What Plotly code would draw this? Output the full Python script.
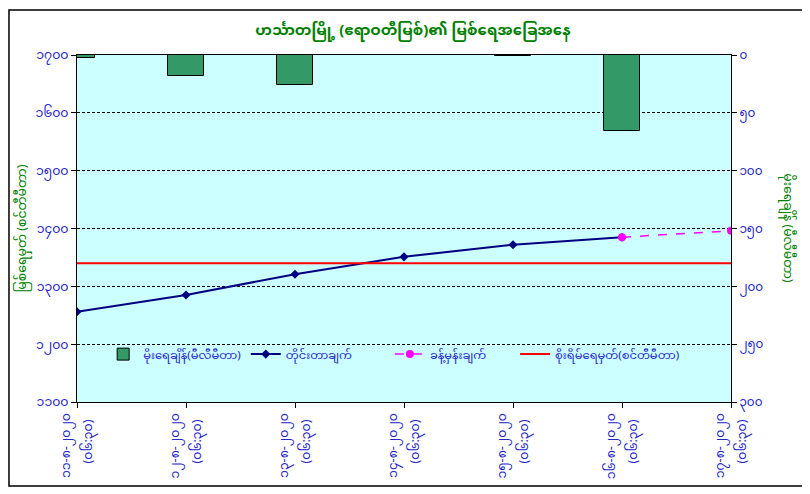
import plotly.graph_objects as go

# readings for Hinthada station (Ayeyarwady river)
dates = ["၁၁-၈-၂၀၂၀", "၁၂-၈-၂၀၂၀", "၁၃-၈-၂၀၂၀", "၁၄-၈-၂၀၂၀",
         "၁၅-၈-၂၀၂၀", "၁၆-၈-၂၀၂၀", "၁၇-၈-၂၀၂၀"]
obs_time = "(၀၆:၃၀)"
rainfall = [2.5, 18, 26, 0, 1, 66, 0]
observed = [1256, 1285, 1321, 1351, 1372, 1385, None]
forecast = [None, None, None, None, None, 1385, 1396]
danger = [1340, 1340, 1340, 1340, 1340, 1340, 1340]

level_ticks = [1100, 1200, 1300, 1400, 1500, 1600, 1700]
rain_ticks = [0, 50, 100, 150, 200, 250, 300]

MM = str.maketrans("0123456789", "၀၁၂၃၄၅၆၇၈၉")


def mm(n):
    return str(n).translate(MM)


def pad(name, n):
    # widen a legend entry so the items spread like the original
    return name + "\u00a0" * n


FONT = "Noto Sans Myanmar, Padauk, Myanmar Text, Noto Sans, sans-serif"
BLUE = "#2323c8"
GREEN = "#008000"

x = list(range(len(dates)))

fig = go.Figure()
fig.add_trace(go.Bar(
    x=x, y=rainfall, yaxis="y2", name="မိုးရေချိန်(မီလီမီတာ)",
    width=0.33, marker=dict(color="#339966", line=dict(color="black", width=1)),
))
fig.add_trace(go.Scatter(
    x=x, y=observed, name=pad("တိုင်းတာချက်", 11), mode="lines+markers",
    line=dict(color="#000080", width=2),
    marker=dict(symbol="diamond", size=7, color="#000080"),
))
fig.add_trace(go.Scatter(
    x=x, y=forecast, name=pad("ခန့်မှန်းချက်", 8), mode="lines+markers",
    line=dict(color="#ff00ff", width=1.5, dash="dash"),
    marker=dict(symbol="circle", size=8, color="#ff00ff"),
))
fig.add_trace(go.Scatter(
    x=x, y=danger, name="စိုးရိမ်ရေမှတ်(စင်တီမီတာ)", mode="lines",
    line=dict(color="#ff0000", width=2),
))
# invisible trace to carry the second row of x labels
fig.add_trace(go.Scatter(x=x, y=danger, xaxis="x2", mode="none",
                         showlegend=False, hoverinfo="skip"))

fig.update_layout(
    width=810, height=494,
    margin=dict(l=69, r=87, t=47, b=100, autoexpand=False),
    paper_bgcolor="white", plot_bgcolor="#ccffff",
    font=dict(family=FONT, color=BLUE, size=12),
    title=dict(text="<b>ဟင်္သာတမြို့ (ဧရာဝတီမြစ်)၏ မြစ်ရေအခြေအနေ</b>",
               x=0.5, xanchor="center", y=0.955, yanchor="middle",
               font=dict(size=15, color=GREEN, family=FONT)),
    showlegend=True,
    legend=dict(orientation="h", x=0.04, y=0.138, xanchor="left", yanchor="middle",
                bgcolor="rgba(0,0,0,0)", font=dict(size=11.5, color=BLUE),
                traceorder="normal"),
    bargap=0,
    xaxis=dict(range=[0, 6], tickvals=x, ticktext=dates, tickangle=-90,
               ticklabelshift=-11,
               showgrid=False, zeroline=False, showline=True, mirror=True,
               linecolor="black", linewidth=1, ticks="outside", ticklen=5,
               tickcolor="black", tickfont=dict(size=12.5, color=BLUE)),
    xaxis2=dict(range=[0, 6], overlaying="x", side="bottom", anchor="y",
                tickvals=x, ticktext=[obs_time] * len(x), tickangle=-90,
                ticklabelshift=11, ticklabelstandoff=14, showgrid=False,
                zeroline=False, showline=False, ticks="",
                tickfont=dict(size=12.5, color=BLUE)),
    yaxis=dict(range=[1100, 1700], tickvals=level_ticks,
               ticktext=[mm(v) for v in level_ticks],
               showgrid=True, gridcolor="black", griddash="3px,2px", gridwidth=1,
               zeroline=False, showline=True, linecolor="black", linewidth=1,
               ticks="outside", ticklen=5, tickcolor="black",
               tickfont=dict(size=12.5, color=BLUE)),
    yaxis2=dict(range=[300, 0], overlaying="y", side="right",
                tickvals=rain_ticks, ticktext=[mm(v) for v in rain_ticks],
                showgrid=False, zeroline=False, showline=True,
                linecolor="black", linewidth=1, ticks="outside", ticklen=5,
                tickcolor="black", tickfont=dict(size=12, color=BLUE)),
)

# axis titles
fig.add_annotation(text="မြစ်ရေမှတ် (စင်တီမီတာ)", textangle=-90,
                   xref="paper", yref="paper", x=-0.084, y=0.5, xanchor="center",
                   showarrow=False, font=dict(size=12.5, color=GREEN))
fig.add_annotation(text="မိုးရေချိန် (မီလီမီတာ)", textangle=90,
                   xref="paper", yref="paper", x=1.086, y=0.5, xanchor="center",
                   showarrow=False, font=dict(size=12.5, color=GREEN))

# chart area border
fig.add_shape(type="rect", xref="paper", yref="paper",
              x0=-0.104, x1=1.113, y0=-0.242, y1=1.13,
              line=dict(color="black", width=1.5))

fig.write_html("out.html")
